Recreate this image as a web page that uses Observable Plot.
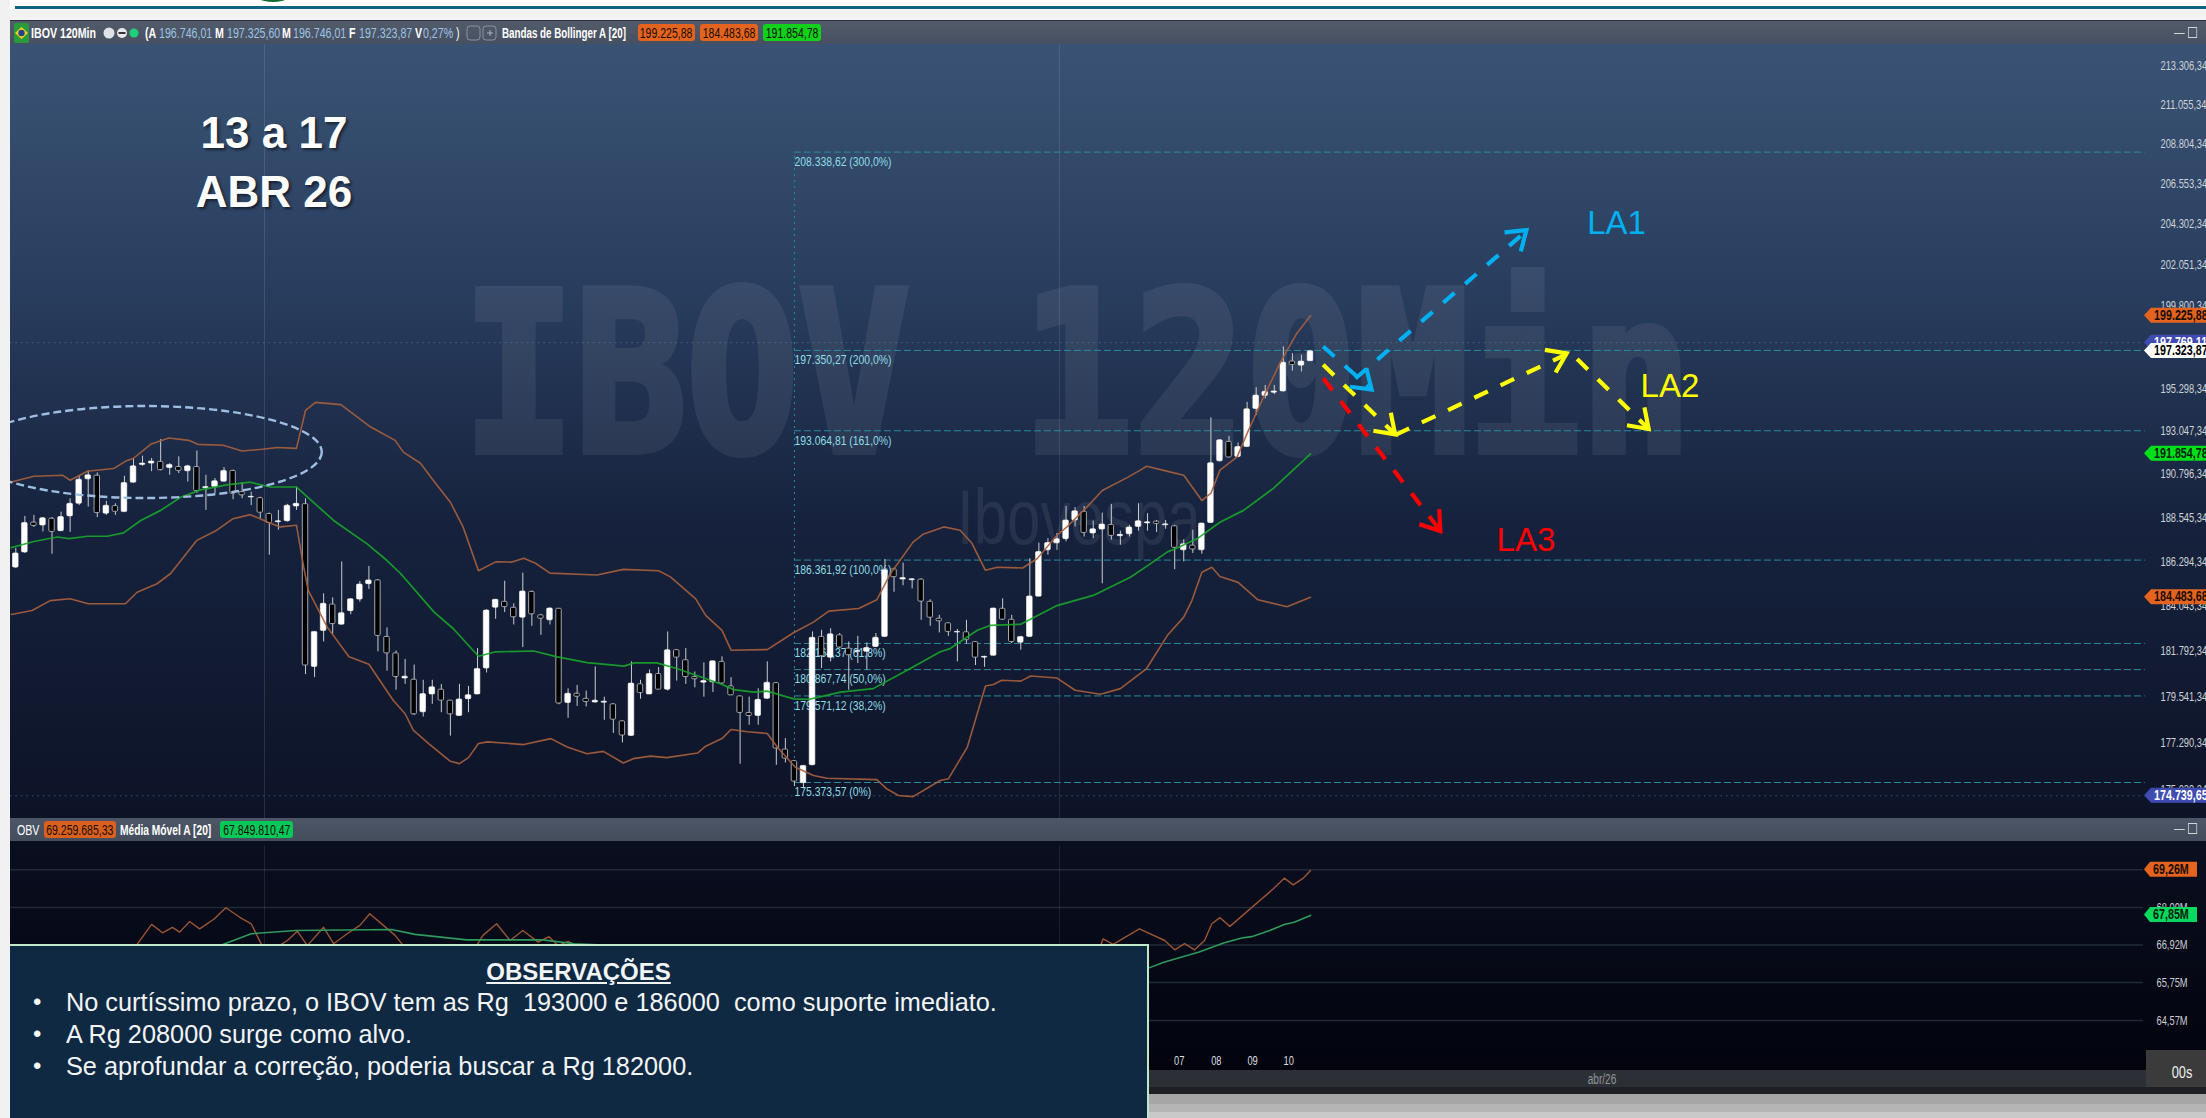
<!DOCTYPE html>
<html lang="pt-BR"><head><meta charset="utf-8">
<script src="https://cdn.jsdelivr.net/npm/d3@7"></script>
<script src="https://cdn.jsdelivr.net/npm/@observablehq/plot@0.6"></script>
<style>
html,body{margin:0;padding:0;background:#fff;overflow:hidden}
#root{position:relative;width:2206px;height:1118px;overflow:hidden;font-family:"Liberation Sans",Arial,sans-serif}
#root>*{position:absolute}
.t{position:absolute;white-space:nowrap;line-height:1}
.n{font-family:"Liberation Sans",Arial,sans-serif;white-space:nowrap}
.n .t{transform:scaleX(.76);transform-origin:0 50%}
.tag{position:absolute;border-radius:3px;color:#1a0d05;height:17px;top:3px;display:flex;justify-content:center;align-items:center;overflow:hidden}
.tag span{flex:none;transform:scaleX(.75)}
</style></head><body>
<div id="root">
  <div style="left:0;top:0;width:2206px;height:20px;background:linear-gradient(#fff,#fff 9px,#f0f0f0 10px,#f4f4f4)"></div>
  <div style="left:250px;top:-24px;width:46px;height:26px;border-radius:50%;background:#0d6b2e"></div>
  <div style="left:15px;top:6px;width:2191px;height:3.4px;background:#0f6383"></div>
  <div id="pricebg" style="left:10px;top:44px;width:2196px;height:774px;background:linear-gradient(#3a5374,#2a3f60 30%,#16223d 62%,#0d1327)"></div>
  <div id="obvbg" style="left:10px;top:841px;width:2196px;height:253px;background:linear-gradient(#0a0f20,#01020b)"></div>
  <div class="t" style="left:463px;top:263px;font:bold 222px 'DejaVu Sans Mono',monospace;line-height:1;color:#fff;-webkit-text-stroke:8px #fff;opacity:.065;transform:scaleX(.836);transform-origin:0 0">IBOV 120Min</div>
  <div class="t" style="left:957px;top:472px;font:78px 'Liberation Sans',sans-serif;color:rgba(255,255,255,.075);transform:scaleX(.77);transform-origin:0 0">Ibovespa</div>
  <div id="pricePlot" style="left:0;top:44px"></div>
  <div id="obvPlot" style="left:0;top:841px"></div>

  <!-- title bars -->
  <div class="n" id="bar1" style="left:10px;top:20px;width:2196px;height:24px;background:linear-gradient(#525b6a,#465061);border-top:1px solid #2a2f38;box-sizing:border-box;font-size:14px;color:#fff">
    <svg style="position:absolute;left:4px;top:2px" width="15" height="20"><rect width="15" height="20" rx="2" fill="#2a9a3a"/><path d="M7.5 4L14 10L7.5 16L1 10Z" fill="#f5d020"/><circle cx="7.5" cy="10" r="3.2" fill="#24408e"/></svg>
    <span class="t" style="left:21px;top:5px;font-weight:bold">IBOV 120Min</span>
    <svg style="position:absolute;left:92px;top:4px" width="42" height="16"><circle cx="7" cy="8" r="5.5" fill="#dfe3e8"/><circle cx="20" cy="8" r="5" fill="#e8e8e8"/><rect x="16.5" y="7" width="7" height="2" fill="#333"/><circle cx="32" cy="8" r="4.5" fill="#1fd07a"/></svg>
    <span class="t" style="left:135px;top:5px;font-weight:bold">(A</span>
    <span class="t" style="left:149px;top:5px;color:#9cc3e6">196.746,01</span>
    <span class="t" style="left:205px;top:5px;font-weight:bold">M</span>
    <span class="t" style="left:217px;top:5px;color:#9cc3e6">197.325,60</span>
    <span class="t" style="left:272px;top:5px;font-weight:bold">M</span>
    <span class="t" style="left:283px;top:5px;color:#9cc3e6">196.746,01</span>
    <span class="t" style="left:339px;top:5px;font-weight:bold">F</span>
    <span class="t" style="left:349px;top:5px;color:#9cc3e6">197.323,87</span>
    <span class="t" style="left:405px;top:5px;font-weight:bold">V</span>
    <span class="t" style="left:413px;top:5px;color:#9cc3e6">0,27%</span>
    <span class="t" style="left:446px;top:5px;color:#fff">)</span>
    <svg style="position:absolute;left:456px;top:3px" width="44" height="18"><rect x="1" y="2" width="13" height="14" rx="3" fill="none" stroke="#8a93a0"/><rect x="17" y="2" width="13" height="14" rx="3" fill="none" stroke="#8a93a0"/><path d="M21 9h6M24 6v6" stroke="#aab2bd"/></svg>
    <span class="t" style="left:492px;top:5px;font-weight:bold;transform:scaleX(.7)">Bandas de Bollinger A [20]</span>
    <span class="tag" style="left:628px;width:57px;background:#e4641f"><span>199.225,88</span></span>
    <span class="tag" style="left:690px;width:58px;background:#e4641f"><span>184.483,68</span></span>
    <span class="tag" style="left:753px;width:58px;background:#10d21a"><span>191.854,78</span></span>
    <span class="t" style="left:2164px;top:4px;color:#d0d4da">—</span>
    <span class="t" style="left:2178px;top:6px;width:10px;height:9px;border:1px solid #d0d4da"></span>
  </div>
  <div class="n" id="bar2" style="left:10px;top:818px;width:2196px;height:23px;background:linear-gradient(#4d5666,#444d5c);font-size:14px;color:#fff">
    <span class="t" style="left:7px;top:5px">OBV</span>
    <span class="tag" style="left:34px;width:72px;background:#d9601f;top:3px"><span>69.259.685,33</span></span>
    <span class="t" style="left:110px;top:5px;font-weight:bold;transform:scaleX(.73)">Média Móvel A [20]</span>
    <span class="tag" style="left:210px;width:73px;background:#07c95a;top:3px"><span>67.849.810,47</span></span>
    <span class="t" style="left:2164px;top:3px;color:#d0d4da">—</span>
    <span class="t" style="left:2178px;top:5px;width:10px;height:9px;border:1px solid #d0d4da"></span>
  </div>

  <!-- bottom strips -->
  <div style="left:10px;top:1070px;width:2136px;height:17px;background:#2c2f35"></div>
  <div class="n" style="left:1572px;top:1071px;width:60px;text-align:center;color:#92969c;font-size:14px;transform:scaleX(.72)">abr/26</div>
  <div style="left:2146px;top:1050px;width:60px;height:44px;background:#3b3b3b"></div>
  <div class="n" style="left:2152px;top:1064px;width:60px;text-align:center;color:#f0f0f0;font-size:16px;transform:scaleX(.8)">00s</div>
  <div style="left:10px;top:1087px;width:2196px;height:7px;background:#1e2024"></div>
  <div style="left:10px;top:1094px;width:2196px;height:24px;background:linear-gradient(#a6a6a6,#a6a6a6 10px,#b5b5b5 10px,#b5b5b5 18px,#c9c9c9 18px)"></div>
  <div style="left:0;top:0;width:10px;height:1118px;background:#f1f1f1"></div>

  <!-- week title -->
  <div class="t" style="left:186px;top:103px;width:176px;text-align:center;font:bold 44px/59px 'Liberation Sans',Arial,sans-serif;color:#fff;text-shadow:2px 2px 3px rgba(0,0,0,.55);white-space:normal">13 a 17<br>ABR 26</div>

  <!-- notes box -->
  <div style="left:10px;top:944px;width:1139px;height:174px;background:#0f2942;border:solid #bfe8c8;border-width:2px 2px 0 0;box-sizing:border-box;color:#f2f4f6">
    <div class="t" style="left:0;width:1137px;text-align:center;top:12px;font:bold 24px 'Liberation Sans',sans-serif;text-decoration:underline">OBSERVAÇÕES</div>
    <div class="t" style="left:23px;top:44px;font-size:24px">•</div>
    <div class="t" style="left:56px;top:43px;font-size:26px;white-space:pre;transform:scaleX(.973);transform-origin:0 0">No curtíssimo prazo, o IBOV tem as Rg  193000 e 186000  como suporte imediato.</div>
    <div class="t" style="left:23px;top:76px;font-size:24px">•</div>
    <div class="t" style="left:56px;top:75px;font-size:26px;transform:scaleX(.973);transform-origin:0 0">A Rg 208000 surge como alvo.</div>
    <div class="t" style="left:23px;top:108px;font-size:24px">•</div>
    <div class="t" style="left:56px;top:107px;font-size:26px;transform:scaleX(.973);transform-origin:0 0">Se aprofundar a correção, poderia buscar a Rg 182000.</div>
  </div>
</div>
<script>
const PLOTFONT = '"Liberation Sans",Arial,sans-serif';

// ---------- candles (price in thousands of points) ----------
const highs = [186.95,188.60,188.65,188.54,188.54,188.82,189.51,190.68,190.96,190.85,
189.38,189.25,190.68,191.61,191.73,191.61,192.60,191.34,191.69,191.25,
192.00,190.73,190.56,191.13,191.00,190.34,189.85,189.59,188.77,188.91,
189.22,190.12,189.51,182.74,184.65,184.45,186.27,184.40,185.27,186.04,
185.37,182.94,181.79,181.37,181.09,180.34,180.34,180.13,179.35,180.14,
180.04,181.91,183.85,184.35,185.29,184.15,185.70,184.79,183.62,183.95,
183.91,179.92,180.09,179.81,181.00,179.51,179.19,178.35,181.25,180.34,
180.85,180.97,182.74,181.86,181.91,180.75,181.20,181.28,181.50,180.47,
179.55,179.51,179.92,181.25,180.22,177.49,176.43,176.17,182.74,182.82,
182.90,182.66,182.24,182.52,182.19,182.66,186.39,185.95,186.21,185.41,
185.41,184.35,183.57,183.18,182.86,183.32,182.24,181.53,183.93,184.40,
183.57,182.49,186.43,187.23,187.46,187.72,189.11,189.05,189.11,188.36,
188.77,189.22,187.84,188.14,189.25,188.74,188.39,188.39,188.14,187.40,
187.89,188.23,193.75,192.60,192.77,192.42,194.57,195.35,195.47,195.47,
197.54,197.18,197.09,197.31];
const bodyTops = [186.70,188.26,188.28,188.50,188.48,188.57,189.25,190.50,190.73,190.71,
189.15,189.13,190.33,191.20,191.34,191.45,191.43,191.27,191.16,191.20,
191.16,190.12,190.42,190.96,190.96,189.85,189.61,189.54,188.72,188.35,
189.15,189.25,189.23,182.74,184.15,184.11,183.68,184.38,185.12,185.33,
185.33,182.49,181.67,180.52,180.37,179.66,180.00,179.88,179.34,179.40,
179.61,180.90,183.81,184.35,184.25,183.95,184.77,184.75,183.57,183.91,
183.90,179.68,179.68,179.43,179.34,179.29,179.16,178.33,180.18,180.14,
180.65,180.65,181.83,181.83,181.33,180.50,180.30,181.28,181.25,180.04,
179.55,178.74,179.38,180.22,180.20,176.96,176.40,176.17,182.45,182.49,
182.62,182.57,181.91,181.79,181.94,182.45,185.84,185.89,185.45,185.39,
185.37,184.25,183.40,183.17,182.74,182.72,182.23,181.50,183.91,183.90,
183.35,182.49,184.52,186.77,187.23,187.43,188.39,188.86,188.84,187.94,
188.18,188.16,187.65,188.03,188.35,188.30,188.33,188.19,188.09,187.17,
187.10,188.23,191.36,192.56,192.48,192.21,194.20,194.93,195.13,195.15,
196.69,196.75,196.75,197.31];
const bodyBottoms = [185.98,186.75,188.11,188.13,187.80,187.84,188.60,189.25,190.52,188.77,
188.74,188.84,188.82,190.34,191.27,191.34,191.00,191.11,190.96,190.94,
189.91,190.05,190.12,190.40,189.77,189.69,189.58,188.79,188.26,188.30,
188.35,189.11,181.07,181.00,182.79,183.13,183.10,183.78,184.36,185.14,
182.54,181.67,180.50,180.43,178.67,178.77,179.64,179.34,178.67,178.59,
179.41,179.64,180.92,183.95,183.98,183.47,183.45,183.62,183.40,183.32,
179.20,179.22,179.53,179.27,179.25,179.24,178.41,177.64,177.62,179.71,
179.64,179.88,179.88,181.46,180.50,180.39,180.22,180.24,180.18,179.60,
178.74,178.59,178.59,179.43,177.01,176.52,175.42,175.34,176.20,181.53,
181.46,181.96,181.58,181.75,181.75,181.99,182.49,185.49,185.37,185.34,
184.26,183.45,183.27,182.74,182.71,182.33,181.46,181.46,181.55,183.35,
182.24,182.20,182.49,184.51,186.86,187.22,187.43,188.39,187.75,187.72,
187.92,187.60,187.58,187.68,188.06,188.24,188.21,188.14,186.99,186.86,
186.90,186.86,188.26,191.46,191.66,191.69,192.21,194.22,194.91,195.08,
195.15,196.57,196.53,196.77];
const lows = [185.93,186.70,188.03,187.80,186.66,187.84,187.78,189.16,189.08,188.54,
188.65,188.65,188.82,190.34,191.20,190.92,190.96,190.73,190.82,190.38,
189.80,188.91,189.77,190.38,189.46,189.51,189.16,188.48,186.61,187.89,
188.31,188.91,180.62,180.47,182.24,182.62,183.10,183.60,184.23,184.87,
181.75,180.79,179.85,180.14,178.62,178.54,179.16,178.75,177.61,178.59,
178.75,179.64,180.70,183.37,183.71,183.09,181.96,183.02,182.57,183.09,
179.14,178.48,179.06,179.03,179.22,178.38,177.74,177.28,177.62,179.41,
179.64,179.88,179.81,180.30,180.14,179.97,179.51,179.74,180.14,179.60,
176.25,178.14,178.14,179.40,176.20,176.31,175.18,175.07,176.20,180.92,
181.25,181.91,179.85,181.17,180.84,181.96,182.49,184.73,185.06,184.90,
183.32,183.02,182.69,182.52,181.25,182.13,181.07,180.98,181.55,183.32,
182.16,181.83,182.49,184.51,186.61,186.86,187.29,188.06,187.54,187.46,
185.16,187.38,187.12,187.54,187.84,187.84,187.77,187.94,185.87,186.27,
186.70,186.66,188.26,191.43,191.66,191.66,192.21,193.87,194.75,194.98,
195.11,196.24,196.19,196.77];
const bearish = [2,4,9,11,16,18,20,24,25,27,28,32,35,40,41,42,44,47,48,54,55,57,58,60,62,63,66,67,69,71,73,74,75,78,79,80,81,84,85,86,89,91,92,97,100,101,102,103,105,106,109,110,118,121,126,128,130,134,141];

// ---------- Bollinger bands ----------
const upperX = [-0.5,2,5.2,6,7.9,10.8,12.1,13,14.9,16.9,19.1,20.1,22.9,25,27.2,28.9,31,32,33.1,35.9,39.2,41.9,42.8,44.7,46.1,48,49.4,51.1,53,54.8,56.1,57.4,59,64.2,67.1,71,72.3,75.1,76.2,78,79,83,85.9,88.1,89.8,93.1,95.1,96.6,99.1,100.2,102.5,104.3,105.6,107.1,108.4,111.2,112.8,115,116.1,118.3,120,122.8,124.2,124.9,127,129,131,132,133,134.9,136,137.8,139.7,141.5,143];
const upperV = [190.38,190.68,190.73,190.47,190.94,191.08,191.46,191.62,192.35,192.68,192.56,192.35,192.30,192.00,192.09,192.18,192.14,194.14,194.57,194.45,193.26,192.56,191.94,191.36,190.47,189.33,188.06,185.82,186.27,186.26,186.46,186.20,185.70,185.60,185.89,185.82,185.51,184.40,183.57,182.82,181.83,181.86,182.70,183.23,183.78,183.91,184.35,185.67,187.28,187.68,188.06,187.89,187.22,185.84,186.00,185.96,186.43,187.63,188.06,189.08,189.94,190.62,191.00,191.20,190.96,190.73,189.42,189.80,191.00,191.69,192.93,194.84,196.73,198.28,199.23];
const lowerX = [-0.5,1.8,3.8,6,8,12.1,13.4,15.6,17.1,20,22.2,24,25.9,27.8,29.2,31,31.8,32.3,34.4,36.8,39,41.7,43,43.9,45.6,48,49,50,51.1,52.1,56.1,59.1,60.9,63.1,64.9,67.1,68.2,70.1,71.9,75.3,76.2,78,79,80.8,83,84.1,86.1,88.1,89.6,95.1,96.2,97.5,99.1,102.1,103,105.1,107.1,108,108.9,111,112.1,115,117,119.8,122,124.9,127.2,129,129.9,131,132.1,133,135,137.2,140.4,143];
const lowerV = [183.61,183.81,184.31,184.40,184.15,184.15,184.73,185.16,185.68,187.37,187.89,188.48,188.69,188.31,188.06,188.14,186.00,184.82,182.98,181.50,181.13,179.35,178.70,177.90,177.25,176.39,176.28,176.57,177.25,177.33,177.20,177.49,177.08,176.76,176.87,176.31,176.52,176.64,176.57,176.79,177.12,177.49,177.93,177.82,177.74,177.08,176.11,175.71,175.58,175.51,175.07,174.75,174.70,175.47,175.55,177.08,180.06,180.13,180.34,180.30,180.55,180.45,179.85,179.65,179.93,180.92,182.57,183.48,184.31,185.74,186.00,185.53,185.23,184.35,184.00,184.48];
const midX = [-0.5,2,4.6,5.9,7.9,10.1,11.9,13.8,16,18.2,20.4,23.3,25.9,28.1,31,35.1,38.8,41,42.5,46.2,48.3,51.1,53,57.2,59.8,63.1,67.2,68.3,70.8,73,77.8,79.3,81.5,83,85.9,87.6,91.1,94.7,99.1,102.1,103.2,106.2,107.7,111,115,119,123.1,125.3,127.2,128.1,130.5,133,135.6,138.9,143];
const midV = [187.00,187.31,187.54,187.46,187.58,187.58,187.75,188.39,188.91,189.59,189.97,190.23,190.37,190.12,190.12,188.39,187.19,186.34,185.68,183.73,182.91,181.53,181.75,181.79,181.50,181.21,181.04,181.20,181.20,180.92,180.17,179.88,179.76,179.81,179.43,179.40,179.76,179.93,181.00,181.75,181.91,182.82,183.07,183.12,184.06,184.57,185.49,186.17,186.78,186.94,187.46,188.30,188.91,190.05,191.85];

// ---------- Fibonacci levels ----------
const fibLevels = [208.33862,197.35027,193.06481,186.36192,182.16437,180.86774,179.57112,175.37357];
const fibLabels = ["208.338,62 (300,0%)","197.350,27 (200,0%)","193.064,81 (161,0%)","186.361,92 (100,0%)","182.164,37 (61,8%)","180.867,74 (50,0%)","179.571,12 (38,2%)","175.373,57 (0%)"];

// ---------- price axis, tags ----------
const priceTicks = [213.30634,211.05534,208.80434,206.55334,204.30234,202.05134,199.80034,197.54934,195.29834,193.04734,190.79634,188.54534,186.29434,184.04334,181.79234,179.54134,177.29034,175.03934];
const priceTagValues = [199.22588,197.76911,197.32387,191.85478,184.48368,174.73965];
const priceTagColors = ["#e4641f","#3f4bb0","#ffffff","#00e01a","#e4641f","#3f4bb0"];
const priceTagText = ["#1a0d05","#ffffff","#000000","#06230a","#1a0d05","#ffffff"];
const extremeLines = [197.76911,174.73965];
const monthBreaks = [27.47,115.27];

// ---------- scenario arrows (candle index, price) ----------
const laNames = ["LA1","LA2","LA3"];
const laColors = ["#00b0f0","#ffff00","#ff0000"];
const laX = [176.8,182.7,166.8];
const laV = [204.31,195.41,187.36];
const arrowColors = ["#00b0f0","#00b0f0","#ffff00","#ffff00","#ffff00","#ff0000"];
const arrowX1 = [144.4,147.96,144.4,152.4,172.45,144.4];
const arrowV1 = [197.56,195.84,196.58,192.85,196.89,195.85];
const arrowX2 = [149.8,166.9,152.4,171.35,180.4,157.4];
const arrowV2 = [195.23,203.92,192.85,197.16,193.13,187.82];

// ---------- OBV pane (millions) ----------
const obvX = [13.3,15,16.2,17.3,18.1,19.2,20.3,21.9,23.2,24.7,26,27.2,28.1,29.1,30,31.1,32.2,34,35.1,36.6,38,39.1,40.6,41.9,42.8,46.9,49.1,50.9,51.6,53.1,54.6,56,57.7,58.9,59.9,61,61.9,69,86.7,103.2,114.3,119.8,120.1,121.2,124.1,126.9,128,129.1,130.2,131.3,132.1,133,134.1,138.9,140.1,141.1,142.2,143];
const obvV = [66.90,67.56,67.30,67.47,67.32,67.65,67.42,67.73,68.08,67.79,67.58,66.90,66.59,66.90,67.06,67.35,66.90,67.47,66.96,67.27,67.53,67.89,67.53,67.22,66.90,65.66,65.97,66.90,67.22,67.58,67.06,67.37,67.01,67.18,66.90,67.03,66.90,65.50,65.19,65.19,65.97,66.90,67.11,66.94,67.42,67.06,66.77,66.96,66.77,67.06,67.58,67.77,67.50,68.67,69.00,68.79,69.00,69.24];
const obvMaX = [22.5,26,30.9,41.5,44.1,49.8,58.2,61.7,66.1,86.7,108.8,125.1,126.8,130.7,133.4,135.4,136.5,138.5,140.1,141.2,143];
const obvMaV = [66.90,67.27,67.37,67.40,67.25,67.08,67.08,66.96,66.90,65.66,65.50,66.20,66.38,66.70,66.98,67.14,67.18,67.37,67.56,67.63,67.84];
const obvTicks = [69.26,68.09,66.92,65.75,64.57];
const obvTagValues = [69.26,67.85];
const obvTagColors = ["#e4641f","#07d860"];
const dayTicks = [128.5,132.6,136.6,140.6];
const dayLabels = ["07","08","09","10"];

// ---------- tables built from the arrays ----------
const bearSet = new Set(bearish);
const candles = highs.map((h,i)=>({i,high:h,top:bodyTops[i],bottom:bodyBottoms[i],low:lows[i],down:bearSet.has(i)}));
const series = (xs,vs)=>xs.map((x,k)=>({x,v:vs[k]}));
const fibs = fibLevels.map((v,k)=>({v,label:fibLabels[k]}));
const arrows = arrowColors.map((c,k)=>({c,x1:arrowX1[k],y1:arrowV1[k],x2:arrowX2[k],y2:arrowV2[k]}));
const las = laNames.map((n,k)=>({n,c:laColors[k],x:laX[k],v:laV[k]}));
const brl = d=>(d*1000).toLocaleString("pt-BR",{minimumFractionDigits:2,maximumFractionDigits:2});
const mil = d=>d.toLocaleString("pt-BR",{minimumFractionDigits:2,maximumFractionDigits:2})+"M";
const bandColor = "#a9603c", teal="#2a8b9c";
const wRight = 235.2;

const common = {marginLeft:0,marginTop:0,marginBottom:0,
  style:{background:"transparent",fontFamily:PLOTFONT,maxWidth:"none",display:"block"}};
const xScale = {type:"linear",domain:[0,143],range:[15.3,1310],axis:null};

const pricePlot = Plot.plot({...common,width:2206,height:774,marginRight:76,
  x:xScale,
  y:{type:"log",domain:[175.37357,208.33862],range:[738,107.6],axis:null},
  marks:[
    Plot.ruleX(monthBreaks,{y1:170,y2:220,stroke:"#fff",strokeOpacity:.11}),
    Plot.ruleY(extremeLines,{x1:-0.6,x2:235,stroke:"#6f8fc0",strokeOpacity:.5,strokeDasharray:"1.5,4"}),
    Plot.ruleX([86],{y1:175.37357,y2:208.33862,stroke:teal,strokeDasharray:"2,4"}),
    Plot.ruleY(fibs,{y:"v",x1:86,x2:wRight,stroke:teal,strokeDasharray:"7,3"}),
    Plot.text(fibs,{x:86,y:"v",text:"label",dy:9.5,textAnchor:"start",fill:"#8fdde6",fontSize:13.5}),
    Plot.ruleX(candles,{x:"i",y1:"low",y2:"high",stroke:"#c8ccd2",strokeWidth:1}),
    Plot.rect(candles.filter(d=>!d.down),{x1:d=>d.i-.31,x2:d=>d.i+.31,y1:"bottom",y2:"top",fill:"#fff",stroke:"#fff",strokeWidth:.6,rx:1}),
    Plot.rect(candles.filter(d=>d.down),{x1:d=>d.i-.3,x2:d=>d.i+.3,y1:"bottom",y2:"top",fill:"#000",stroke:"#a4a8ae",strokeWidth:1,rx:1}),
    Plot.line(series(upperX,upperV),{x:"x",y:"v",stroke:bandColor,strokeWidth:1.6,strokeOpacity:.9}),
    Plot.line(series(lowerX,lowerV),{x:"x",y:"v",stroke:bandColor,strokeWidth:1.6,strokeOpacity:.9}),
    Plot.line(series(midX,midV),{x:"x",y:"v",stroke:"#18a62a",strokeWidth:1.7,strokeOpacity:.9}),
    Plot.axisY(priceTicks,{anchor:"right",label:null,tickSize:0,tickPadding:30,tickFormat:brl,color:"#cfd3d8",fontSize:13.5,textAnchor:"start"}),
    Plot.link(arrows,{x1:"x1",y1:"y1",x2:"x2",y2:"y2",stroke:"c",strokeWidth:4.2,strokeDasharray:"15,14"}),
    Plot.text(las,{x:"x",y:"v",text:"n",fill:"c",fontSize:33,fontFamily:"Liberation Sans"})
  ]});
document.getElementById("pricePlot").append(pricePlot);

const obvPlot = Plot.plot({...common,width:2206,height:253,marginRight:60,
  x:xScale,
  y:{type:"linear",domain:[64.57,69.26],range:[179,28.3],axis:null},
  marks:[
    Plot.ruleY(obvTicks,{x1:-0.6,x2:235,stroke:"#222a3a",strokeWidth:1.5}),
    Plot.ruleX(monthBreaks,{y1:62,y2:70,stroke:"#fff",strokeOpacity:.09}),
    Plot.line(series(obvX,obvV),{x:"x",y:"v",stroke:"#9a5535",strokeWidth:1.4}),
    Plot.line(series(obvMaX,obvMaV),{x:"x",y:"v",stroke:"#2e9a5c",strokeWidth:1.6}),
    Plot.axisY(obvTicks,{anchor:"right",label:null,tickSize:0,tickPadding:10,tickFormat:mil,color:"#c8ccd2",fontSize:13.5,textAnchor:"start"}),
    Plot.text(dayTicks,{x:d=>d,y:64.57,dy:40,text:(d,k)=>dayLabels[k],fill:"#d8dce0",fontSize:13.5})
  ]});
document.getElementById("obvPlot").append(obvPlot);

// the reference uses a condensed screen font: narrow the plot's labels to that width
function squeeze(plot){
  plot.querySelectorAll("text").forEach(t=>{
    if(parseFloat(getComputedStyle(t).fontSize)>=30) return;
    const f=t.textContent.includes("(")?.77:.69;
    t.setAttribute("textLength",t.getComputedTextLength()*f);
    t.setAttribute("lengthAdjust","spacingAndGlyphs");
  });
}
squeeze(pricePlot); squeeze(obvPlot);

// ---------- annotations placed through the plot scales ----------
function tags(plot,values,colors,texts,fmt,left,tip,right,size,textX){
  const y=plot.scale("y"), g=d3.select(plot).append("g").attr("text-anchor","start");
  values.forEach((v,k)=>{
    const py=y.apply(v);
    g.append("path").attr("d",`M${tip},${py}L${left},${py-7.5}H${right}V${py+7.5}H${left}Z`).attr("fill",colors[k]);
    const t=g.append("text").attr("x",textX).attr("y",py+4.6).attr("font-size",size).attr("font-weight","bold")
      .attr("fill",texts[k]).text(fmt(v));
    t.attr("textLength",t.node().getComputedTextLength()*.74).attr("lengthAdjust","spacingAndGlyphs");
  });
}
tags(pricePlot,priceTagValues,priceTagColors,priceTagText,brl,2151,2144,2206,14.5,2154);
tags(obvPlot,obvTagValues,obvTagColors,["#1a0d05","#06230a"],mil,2150,2144,2197,14.5,2153);

const sx=pricePlot.scale("x"), sy=pricePlot.scale("y");
const ann=d3.select(pricePlot).append("g");
ann.append("ellipse").attr("cx",sx.apply(14.3)).attr("cy",sy.apply(191.92)).attr("rx",177).attr("ry",46)
   .attr("fill","none").attr("stroke","#9fbfe2").attr("stroke-width",2.4).attr("stroke-dasharray","8,4");
arrows.forEach(a=>{
  const tx=sx.apply(a.x2),ty=sy.apply(a.y2),bx=sx.apply(a.x1),by=sy.apply(a.y1);
  const ang=Math.atan2(ty-by,tx-bx),w=22,sp=Math.PI/5.2;
  const p=s=>[tx-w*Math.cos(ang+s),ty-w*Math.sin(ang+s)];
  ann.append("path").attr("d",`M${p(sp)}L${tx},${ty}L${p(-sp)}`).attr("fill","none").attr("stroke",a.c).attr("stroke-width",4.2);
});
</script>
</body></html>
